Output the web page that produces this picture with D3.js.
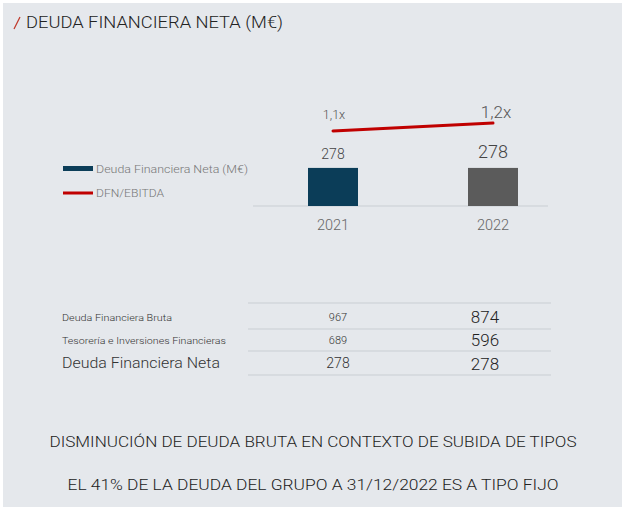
<!DOCTYPE html>
<html>
<head>
<meta charset="utf-8">
<script src="https://cdn.jsdelivr.net/npm/d3@7"></script>
<style>
    body { margin: 0; background: #fff; }
    svg { display: block; font-family: Roboto, sans-serif; font-weight: 300; }
</style>
</head>
<body>
<svg id="chart"></svg>
<script>
const years = ["2021", "2022"];
const dfn = [278, 278];
const ratio = [1.1, 1.2];
const ratioLabels = ["1,1x", "1,2x"];
const barColors = ["#0b3d58", "#5b5b5b"];

const rowNames = ["Deuda Financiera Bruta", "Tesorería e Inversiones Financieras", "Deuda Financiera Neta"];
const rows2021 = [967, 689, 278];
const rows2022 = [874, 596, 278];

const notes = [
    "DISMINUCIÓN DE DEUDA BRUTA EN CONTEXTO DE SUBIDA DE TIPOS",
    "EL 41% DE LA DEUDA DEL GRUPO A 31/12/2022 ES A TIPO FIJO"
];

const WIDTH = 625, HEIGHT = 509;
const BAR_W = 50;

const svg = d3.select("#chart")
    .attr("width", WIDTH)
    .attr("height", HEIGHT);

svg.append("rect")
    .attr("x", 3).attr("y", 3)
    .attr("width", 619).attr("height", 504)
    .attr("fill", "#e5e8ec");

// title
svg.append("line")
    .attr("x1", 14).attr("y1", 29)
    .attr("x2", 20).attr("y2", 17)
    .attr("stroke", "#c0392b")
    .attr("stroke-width", 1.2);
svg.append("text")
    .attr("x", 26).attr("y", 28)
    .attr("font-size", 16.5)
    .attr("fill", "#222")
    .attr("textLength", 257)
    .attr("lengthAdjust", "spacingAndGlyphs")
    .text("DEUDA FINANCIERA NETA (M€)");

const x = d3.scalePoint().domain(years).range([253, 573]).padding(0.5);
const y = d3.scaleLinear().domain([0, 1000]).range([206, 69]);
const yRatio = d3.scaleLinear().domain([0, 1.5]).range([219, 99]);

// axis baseline
svg.append("line")
    .attr("x1", 253).attr("x2", 548)
    .attr("y1", y(0)).attr("y2", y(0))
    .attr("stroke", "#c9ced3")
    .attr("stroke-width", 1);

svg.selectAll("rect.bar")
    .data(dfn)
    .enter()
    .append("rect")
    .attr("class", "bar")
    .attr("x", (d, i) => x(years[i]) - BAR_W / 2)
    .attr("y", d => y(d))
    .attr("width", BAR_W)
    .attr("height", d => y(0) - y(d))
    .attr("fill", (d, i) => barColors[i]);

const valueSizes = [14, 18];
svg.selectAll("text.value")
    .data(dfn)
    .enter()
    .append("text")
    .attr("class", "value")
    .attr("x", (d, i) => x(years[i]))
    .attr("y", (d, i) => y(d) - (i == 0 ? 9 : 10))
    .attr("text-anchor", "middle")
    .attr("font-size", (d, i) => valueSizes[i])
    .attr("fill", "#444")
    .text(d => d);

svg.selectAll("text.year")
    .data(years)
    .enter()
    .append("text")
    .attr("class", "year")
    .attr("x", d => x(d))
    .attr("y", 230)
    .attr("text-anchor", "middle")
    .attr("font-size", 14.5)
    .attr("fill", "#666")
    .text(d => d);

// DFN/EBITDA line
const line = d3.line()
    .x((d, i) => x(years[i]))
    .y(d => yRatio(d));
svg.append("path")
    .datum(ratio)
    .attr("d", line)
    .attr("fill", "none")
    .attr("stroke", "#c00000")
    .attr("stroke-width", 3)
    .attr("stroke-linecap", "round");

const ratioSizes = [12.5, 17];
svg.selectAll("text.ratio")
    .data(ratio)
    .enter()
    .append("text")
    .attr("class", "ratio")
    .attr("x", (d, i) => x(years[i]) + (i == 0 ? 1 : 3))
    .attr("y", (d, i) => yRatio(d) - (i == 0 ? 12 : 5))
    .attr("text-anchor", "middle")
    .attr("font-size", (d, i) => ratioSizes[i])
    .attr("fill", "#555")
    .text((d, i) => ratioLabels[i]);

// legend
svg.append("rect")
    .attr("x", 63).attr("y", 166)
    .attr("width", 30).attr("height", 5)
    .attr("fill", barColors[0]);
svg.append("text")
    .attr("x", 96).attr("y", 173)
    .attr("font-size", 11.5)
    .attr("fill", "#777")
    .attr("textLength", 152)
    .attr("lengthAdjust", "spacingAndGlyphs")
    .text("Deuda Financiera Neta (M€)");
svg.append("line")
    .attr("x1", 63).attr("x2", 93)
    .attr("y1", 193).attr("y2", 193)
    .attr("stroke", "#c00000")
    .attr("stroke-width", 3);
svg.append("text")
    .attr("x", 96).attr("y", 197)
    .attr("font-size", 11.5)
    .attr("fill", "#777")
    .attr("textLength", 68)
    .attr("lengthAdjust", "spacingAndGlyphs")
    .text("DFN/EBITDA");

// table
const rowLines = [303, 329, 351, 375];
svg.selectAll("line.row")
    .data(rowLines)
    .enter()
    .append("line")
    .attr("class", "row")
    .attr("x1", 248).attr("x2", 551)
    .attr("y1", d => d).attr("y2", d => d)
    .attr("stroke", "#c9ced3")
    .attr("stroke-width", 1);

const nameSizes = [9.5, 9.5, 14];
const nameWidths = [110, 164, 158];
const baselines = [321, 344, 368];
rowNames.forEach(function (name, i) {
    svg.append("text")
        .attr("x", 62).attr("y", baselines[i])
        .attr("font-size", nameSizes[i])
        .attr("fill", "#333")
        .attr("textLength", nameWidths[i])
        .attr("lengthAdjust", "spacingAndGlyphs")
        .text(name);
    svg.append("text")
        .attr("x", 338).attr("y", baselines[i])
        .attr("text-anchor", "middle")
        .attr("font-size", i == 2 ? 14 : 11)
        .attr("fill", "#333")
        .text(rows2021[i]);
    svg.append("text")
        .attr("x", 485).attr("y", baselines[i] + 2)
        .attr("text-anchor", "middle")
        .attr("font-size", 17)
        .attr("fill", "#222")
        .text(rows2022[i]);
});

// notes
const noteY = [447, 490];
const noteW = [527, 491];
svg.selectAll("text.note")
    .data(notes)
    .enter()
    .append("text")
    .attr("class", "note")
    .attr("x", 313)
    .attr("y", (d, i) => noteY[i])
    .attr("text-anchor", "middle")
    .attr("font-size", 14)
    .attr("fill", "#222")
    .attr("textLength", (d, i) => noteW[i])
    .attr("lengthAdjust", "spacingAndGlyphs")
    .text(d => d);
</script>
</body>
</html>
